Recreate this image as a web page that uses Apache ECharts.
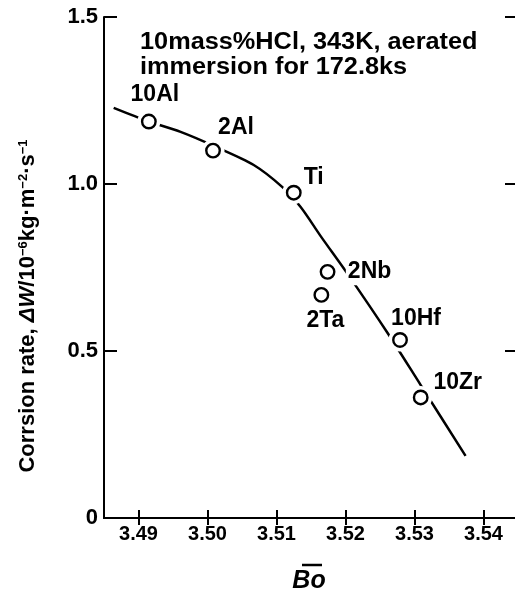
<!DOCTYPE html>
<html>
<head>
<meta charset="utf-8">
<script src="https://cdn.jsdelivr.net/npm/echarts@6/dist/echarts.min.js"></script>
<style>
  html, body { margin: 0; padding: 0; background: #fff; }
  #chart { width: 515px; height: 594px; }
</style>
</head>
<body>
<div id="chart"></div>
<script>
// Alloy designations and their measured values
const alloys = ['10Al', '2Al', 'Ti', '2Nb', '2Ta', '10Hf', '10Zr'];
const boValues = [3.4915, 3.5008, 3.5125, 3.5174, 3.5165, 3.5279, 3.5309];
const corrosionRate = [1.187, 1.100, 0.974, 0.737, 0.668, 0.533, 0.361];

// Trend curve drawn through the data
const curveBo = [3.4864, 3.4915, 3.4961, 3.5009, 3.5067, 3.5109, 3.5135, 3.5164, 3.5203, 3.5261, 3.5309, 3.5374];
const curveRate = [1.228, 1.187, 1.156, 1.114, 1.057, 0.990, 0.931, 0.844, 0.731, 0.554, 0.398, 0.186];

// Axis ticks
const xTicks = [3.49, 3.50, 3.51, 3.52, 3.53, 3.54];
const yTicks = [0, 0.5, 1.0, 1.5];

const FONT = '"Liberation Sans", Arial, Helvetica, sans-serif';

// Label placement around each marker (pixel offsets from marker centre)
const labelOffset = {
  '10Al': [6, -27], '2Al': [23, -23], 'Ti': [20, -15], '2Nb': [42, 0],
  '2Ta': [4, 26], '10Hf': [16, -21], '10Zr': [37, -15]
};

const points = alloys.map((name, i) => ({
  name: name,
  value: [boValues[i], corrosionRate[i]],
  label: {
    offset: labelOffset[name],
    backgroundColor: name === '2Nb' ? '#fff' : 'transparent',
    padding: name === '2Nb' ? [2, 2] : 0
  }
}));
const curve = curveBo.map((b, i) => [b, curveRate[i]]);

const chart = echarts.init(document.getElementById('chart'), null, { renderer: 'canvas' });

const axisLine = { show: true, lineStyle: { color: '#000', width: 2 } };

chart.setOption({
  animation: false,
  backgroundColor: '#fff',
  grid: { left: 104, top: 17, right: -3, bottom: 76, containLabel: false, outerBoundsMode: 'none' },
  xAxis: [
    {
      type: 'value', position: 'bottom', min: 3.485, max: 3.545,
      axisLine: axisLine,
      axisTick: { show: true, inside: true, length: 8, customValues: xTicks, lineStyle: { color: '#000', width: 2 } },
      axisLabel: {
        customValues: xTicks, margin: 6,
        formatter: v => v.toFixed(2),
        color: '#000', fontFamily: FONT, fontWeight: 'bold', fontSize: 20
      },
      splitLine: { show: false }
    },
    {
      type: 'value', position: 'top', min: 3.485, max: 3.545,
      axisLine: axisLine,
      axisTick: { show: true, inside: true, length: 7, customValues: xTicks, lineStyle: { color: '#000', width: 2 } },
      axisLabel: { show: false },
      splitLine: { show: false }
    }
  ],
  yAxis: [
    {
      type: 'value', position: 'left', min: 0, max: 1.5,
      axisLine: axisLine,
      axisTick: { show: true, inside: true, length: 13, customValues: yTicks, lineStyle: { color: '#000', width: 2 } },
      axisLabel: {
        customValues: yTicks, margin: 6,
        formatter: v => (v === 0 ? '0' : v.toFixed(1)),
        color: '#000', fontFamily: FONT, fontWeight: 'bold', fontSize: 22
      },
      splitLine: { show: false }
    },
    {
      type: 'value', position: 'right', min: 0, max: 1.5,
      axisLine: axisLine,
      axisTick: { show: true, inside: true, length: 13, customValues: yTicks, lineStyle: { color: '#000', width: 2 } },
      axisLabel: { show: false },
      splitLine: { show: false }
    }
  ],
  series: [
    {
      type: 'line', data: curve, smooth: 0.3, showSymbol: false, z: 0,
      lineStyle: { color: '#000', width: 2.5 }, silent: true
    },
    {
      // white halo that opens a gap in the curve around each marker
      type: 'scatter', data: points.map(p => p.value), symbol: 'circle', symbolSize: 23, z: 5,
      itemStyle: { color: '#ffffff', opacity: 1 }, silent: true
    },
    {
      type: 'scatter', data: points, symbol: 'circle', symbolSize: 13.5, z: 6,
      itemStyle: { color: '#fff', borderColor: '#000', borderWidth: 2.4, opacity: 1 },
      label: {
        show: true, position: 'inside', formatter: '{b}',
        color: '#000', fontFamily: FONT, fontWeight: 'bold', fontSize: 23
      }
    }
  ],
  graphic: [
    {
      type: 'text', x: 140, y: 30, scaleX: 1.1,
      style: {
        text: '10mass%HCl, 343K, aerated\nimmersion for 172.8ks',
        font: 'bold 23px ' + FONT, fill: '#000', lineHeight: 25, verticalAlign: 'top'
      }
    },
    {
      type: 'text', x: 28, y: 306, rotation: Math.PI / 2,
      style: {
        text: '{n|Corrsion rate, }{i|ΔW}{n|/10}{s|−6}{n|kg·m}{s|−2}{n|·s}{s|−1}',
        align: 'center', verticalAlign: 'middle',
        rich: {
          n: { font: 'bold 22px ' + FONT, fill: '#000' },
          i: { font: 'italic bold 22px ' + FONT, fill: '#000' },
          s: { font: 'bold 13px ' + FONT, fill: '#000', verticalAlign: 'top', padding: [0, 0, 10, 0] }
        }
      }
    },
    {
      type: 'text', x: 309, y: 581,
      style: {
        text: 'Bo', align: 'center', verticalAlign: 'middle',
        font: 'italic bold 25px ' + FONT, fill: '#000'
      }
    },
    {
      type: 'line', shape: { x1: 302, y1: 565, x2: 322, y2: 565 },
      style: { stroke: '#000', lineWidth: 2.5 }
    }
  ]
});
</script>
</body>
</html>
